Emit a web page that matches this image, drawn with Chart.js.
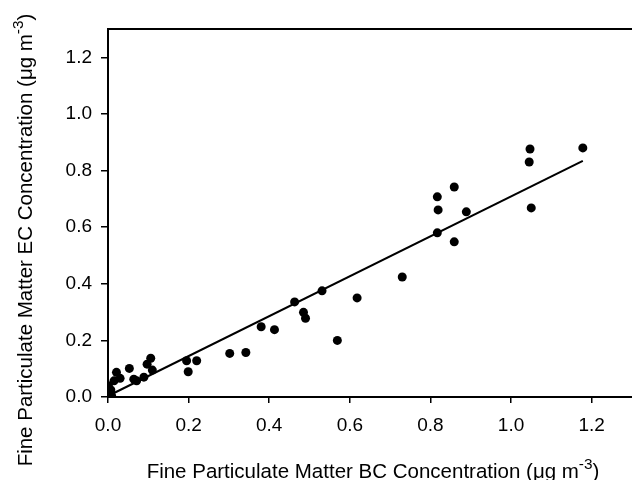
<!DOCTYPE html>
<html>
<head>
<meta charset="utf-8">
<script src="https://cdn.jsdelivr.net/npm/chart.js@4"></script>
<style>
  html, body { margin: 0; padding: 0; background: #fff; }
  #wrap { width: 632px; height: 480px; }
</style>
</head>
<body>
<div id="wrap"><canvas id="bcec" width="632" height="480"></canvas></div>
<script>
    // BC vs EC
    const bcValues = [1.047, 1.178, 1.045, 1.050, 0.817, 0.859, 0.819, 0.889, 0.817, 0.859,
                      0.730, 0.531, 0.463, 0.485, 0.490, 0.618, 0.569, 0.380, 0.413, 0.302,
                      0.342, 0.195, 0.220, 0.199, 0.106, 0.097, 0.110, 0.053, 0.021, 0.030,
                      0.015, 0.064, 0.071, 0.089, 0.001, 0.007, 0.000, 0.009, 0.004];
    const ecValues = [0.876, 0.880, 0.830, 0.668, 0.707, 0.742, 0.661, 0.654, 0.580, 0.548,
                      0.424, 0.375, 0.336, 0.299, 0.278, 0.350, 0.200, 0.248, 0.238, 0.154,
                      0.157, 0.128, 0.128, 0.089, 0.137, 0.116, 0.095, 0.101, 0.087, 0.066,
                      0.057, 0.063, 0.057, 0.070, 0.040, 0.025, 0.007, 0.004, 0.012];
    // regression line endpoints
    const fitX = [0.005, 1.178];
    const fitY = [0.007, 0.834];
    const tickValues = [0, 0.2, 0.4, 0.6, 0.8, 1.0, 1.2];

    const fontFamily = '"Liberation Sans", Arial, sans-serif';

    function drawSupText(ctx, parts, x, y, size) {
      // parts: [[text, isSup], ...], centred on x, y is the baseline
      let total = 0;
      parts.forEach(p => {
        ctx.font = (p[1] ? size * 0.75 : size) + 'px ' + fontFamily;
        total += ctx.measureText(p[0]).width;
      });
      let cx = x - total / 2;
      parts.forEach(p => {
        ctx.font = (p[1] ? size * 0.75 : size) + 'px ' + fontFamily;
        ctx.fillText(p[0], cx, p[1] ? y - size * 0.45 : y);
        cx += ctx.measureText(p[0]).width;
      });
    }

    const titlesPlugin = {
      id: 'titles',
      afterDraw(chart) {
        const ctx = chart.ctx;
        const area = chart.chartArea;
        ctx.save();
        ctx.fillStyle = '#000';
        ctx.textBaseline = 'alphabetic';
        ctx.textAlign = 'left';
        // top frame line
        ctx.strokeStyle = '#000';
        ctx.lineWidth = 2;
        ctx.beginPath();
        ctx.moveTo(area.left - 1, area.top);
        ctx.lineTo(area.right, area.top);
        ctx.stroke();

        drawSupText(ctx, [['Fine Particulate Matter BC Concentration (\u03bcg m', false], ['-3', true], [')', false]],
          373, 478, 20.5);

        ctx.translate(32, 240);
        ctx.rotate(-Math.PI / 2);
        drawSupText(ctx, [['Fine Particulate Matter EC Concentration (\u03bcg m', false], ['-3', true], [')', false]],
          0, 0, 20.5);
        ctx.restore();
      }
    };

    const ctx = document.getElementById('bcec').getContext('2d');

    new Chart(ctx, {
      type: 'scatter',
      data: {
        datasets: [
          {
            label: 'EC vs BC',
            data: bcValues.map((v, i) => ({ x: v, y: ecValues[i] })),
            backgroundColor: '#000',
            borderColor: '#000',
            pointRadius: 4.5,
            pointHoverRadius: 4.5,
            borderWidth: 0
          },
          {
            label: 'Fit',
            type: 'line',
            data: fitX.map((v, i) => ({ x: v, y: fitY[i] })),
            borderColor: '#000',
            borderWidth: 2,
            pointRadius: 0,
            fill: false
          }
        ]
      },
      options: {
        responsive: false,
        animation: false,
        layout: { autoPadding: false, padding: { top: 29, right: 0, left: 0, bottom: 0 } },
        plugins: {
          legend: { display: false },
          tooltip: { enabled: false }
        },
        scales: {
          x: {
            type: 'linear',
            min: 0,
            max: 1.3,
            afterFit(scale) { scale.height = 83; },
            afterBuildTicks(axis) { axis.ticks = tickValues.map(v => ({ value: v })); },
            border: { display: true, color: '#000', width: 2 },
            grid: { drawOnChartArea: false, drawTicks: true, tickLength: 6, color: '#000', lineWidth: 1.5 },
            ticks: {
              color: '#000',
              padding: 11,
              maxRotation: 0,
              font: { family: fontFamily, size: 19 },
              callback: v => v.toFixed(1)
            }
          },
          y: {
            type: 'linear',
            min: 0,
            max: 1.3,
            afterFit(scale) { scale.width = 108; },
            afterBuildTicks(axis) { axis.ticks = tickValues.map(v => ({ value: v })); },
            border: { display: true, color: '#000', width: 2 },
            grid: { drawOnChartArea: false, drawTicks: true, tickLength: 7, color: '#000', lineWidth: 1.5 },
            ticks: {
              color: '#000',
              padding: 9,
              font: { family: fontFamily, size: 19 },
              callback: v => v.toFixed(1)
            }
          }
        }
      },
      plugins: [titlesPlugin]
    });
</script>
</body>
</html>
